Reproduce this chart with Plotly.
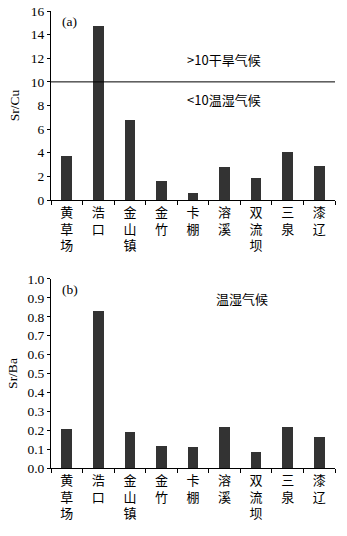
import plotly.graph_objects as go

# Sampling sites (vertical labels, one character per line)
sites = ["黄草场", "浩口", "金山镇", "金竹", "卡棚", "溶溪", "双流坝", "三泉", "漆辽"]
sr_cu = [3.75, 14.7, 6.8, 1.58, 0.6, 2.77, 1.86, 4.04, 2.85]
sr_ba = [0.208, 0.829, 0.19, 0.116, 0.109, 0.215, 0.085, 0.215, 0.166]
SR_CU_THRESHOLD = 10

site_labels = ["<br>".join(list(s)) for s in sites]

SERIF = "Times New Roman, Liberation Serif, Noto Sans CJK SC, serif"
CJK = "Noto Sans CJK SC, Liberation Serif, serif"
BAR_COLOR = "#333333"

fig = go.Figure()
fig.add_trace(go.Bar(x=sites, y=sr_cu, xaxis="x", yaxis="y", width=0.34,
                     marker=dict(color=BAR_COLOR, line=dict(width=0))))
fig.add_trace(go.Bar(x=sites, y=sr_ba, xaxis="x2", yaxis="y2", width=0.34,
                     marker=dict(color=BAR_COLOR, line=dict(width=0))))

xaxis_common = dict(
    type="category", tickmode="array", tickvals=sites, ticktext=site_labels,
    tickson="boundaries", ticks="outside", ticklen=4, tickcolor="black",
    showline=True, linecolor="black", linewidth=1, showgrid=False,
    range=[-0.5, len(sites) - 0.5], automargin=False,
    tickfont=dict(family=CJK, size=13, color="black"),
)
yaxis_common = dict(
    ticks="outside", ticklen=3, tickcolor="black", showline=True,
    linecolor="black", linewidth=1, showgrid=False, zeroline=False, automargin=False,
    tickfont=dict(family=SERIF, size=13.5, color="black"),
)

fig.update_layout(
    width=347, height=536,
    margin=dict(l=51, r=12, t=11, b=68),
    plot_bgcolor="white", paper_bgcolor="white",
    showlegend=False, bargap=0,
    xaxis=dict(domain=[0, 1], anchor="y", **xaxis_common),
    yaxis=dict(domain=[0.5864, 1], anchor="x", range=[0, 16], dtick=2,
               title=dict(text="Sr/Cu", font=dict(family=SERIF, size=13.5, color="black"), standoff=8),
               **yaxis_common),
    xaxis2=dict(domain=[0, 1], anchor="y2", **xaxis_common),
    yaxis2=dict(domain=[0, 0.4136], anchor="x2", range=[0, 1.0], dtick=0.1, tickformat=".1f",
                title=dict(text="Sr/Ba", font=dict(family=SERIF, size=13.5, color="black"), standoff=6),
                **yaxis_common),
)

fig.add_shape(type="line", xref="x domain", yref="y", x0=0, x1=1,
              y0=SR_CU_THRESHOLD, y1=SR_CU_THRESHOLD, line=dict(color="black", width=1))

ann_font = dict(family=CJK, size=13, color="black")
fig.add_annotation(xref="x domain", yref="y", x=0.745, y=11.9, text=">10干旱气候",
                   showarrow=False, font=ann_font)
fig.add_annotation(xref="x domain", yref="y", x=0.745, y=8.5, text="<10温湿气候",
                   showarrow=False, font=ann_font)
fig.add_annotation(xref="x domain", yref="y", x=0.03, y=15.1, text="(a)", xanchor="left",
                   showarrow=False, font=dict(family=SERIF, size=13.5, color="black"))
fig.add_annotation(xref="x2 domain", yref="y2", x=0.03, y=0.943, text="(b)", xanchor="left",
                   showarrow=False, font=dict(family=SERIF, size=13.5, color="black"))
fig.add_annotation(xref="x2 domain", yref="y2", x=0.77, y=0.895, text="温湿气候",
                   showarrow=False, font=ann_font)

fig.write_html("out.html")
